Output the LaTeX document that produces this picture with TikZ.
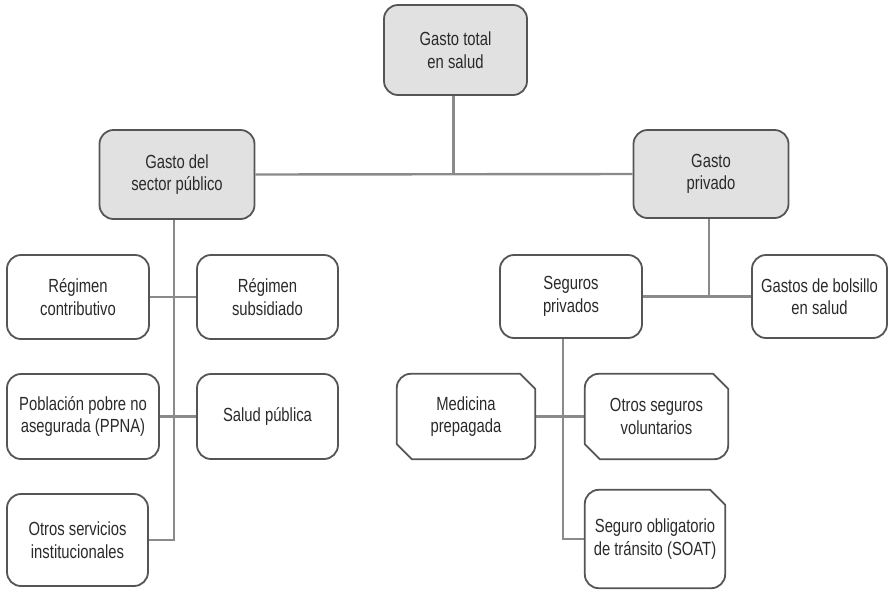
\documentclass[tikz,border=0pt]{standalone}
\usepackage{fontspec}
\setmainfont{Liberation Sans}[FakeStretch=0.78]
\usetikzlibrary{calc}
\definecolor{boxborder}{HTML}{555555}
\definecolor{connline}{HTML}{8A8A8A}
\definecolor{boxfill}{HTML}{E1E1E1}
\definecolor{txt}{HTML}{2A2A2A}
\tikzset{
  basebox/.style={rectangle, align=center, text=txt, inner sep=0pt,
    font=\fontsize{19}{22.5}\selectfont},
  roundbox/.style={basebox, draw=boxborder, line width=1.8pt, rounded corners=14pt, fill=white},
  greybox/.style={roundbox, fill=boxfill},
  chambox/.style={basebox},
  chamborder/.style={draw=boxborder, line width=1.8pt, line join=round},
  conn/.style={draw=connline, line width=2.4pt},
}
\newcommand\drawchamfer[2]{% #1 node name, #2 = 1 if bottom-left is chamfered
  \ifnum#2=1
  \draw[chamborder] ($(#1.north west)+(0,-14pt)$) arc[start angle=180,end angle=90,radius=14pt]
    -- ($(#1.north east)+(-15pt,0)$) -- ($(#1.north east)+(0,-15pt)$)
    -- ($(#1.south east)+(0,14pt)$) arc[start angle=0,end angle=-90,radius=14pt]
    -- ($(#1.south west)+(15pt,0)$) -- ($(#1.south west)+(0,15pt)$) -- cycle;
  \else
  \draw[chamborder] ($(#1.north west)+(0,-14pt)$) arc[start angle=180,end angle=90,radius=14pt]
    -- ($(#1.north east)+(-15pt,0)$) -- ($(#1.north east)+(0,-15pt)$)
    -- ($(#1.south east)+(0,14pt)$) arc[start angle=0,end angle=-90,radius=14pt]
    -- ($(#1.south west)+(14pt,0)$) arc[start angle=270,end angle=180,radius=14pt] -- cycle;
  \fi}
\begin{document}
\begin{tikzpicture}[x=1pt,y=-1pt]
\useasboundingbox (0,0) rectangle (890,590);
\node[greybox, minimum width=143pt, minimum height=90pt] (total) at (455.5,50) {Gasto total\\en salud};
\node[greybox, minimum width=155pt, minimum height=89pt] (pub) at (177,174.5) {Gasto del\\sector público};
\node[greybox, minimum width=155pt, minimum height=88pt] (priv) at (711,174) {Gasto\\privado};
\node[roundbox, minimum width=142pt, minimum height=84pt] (rc) at (78,297) {Régimen\\contributivo};
\node[roundbox, minimum width=141pt, minimum height=84pt] (rs) at (267.5,297) {Régimen\\subsidiado};
\node[roundbox, minimum width=152pt, minimum height=85pt] (pp) at (83,416.5) {Población pobre no\\asegurada (PPNA)};
\node[roundbox, minimum width=141pt, minimum height=85pt] (sp) at (267.5,416.5) {Salud pública};
\node[roundbox, minimum width=141pt, minimum height=92pt] (oi) at (77.5,540) {Otros servicios\\institucionales};
\node[roundbox, minimum width=142pt, minimum height=83pt] (sg) at (571,296.5) {Seguros\\privados};
\node[roundbox, minimum width=135pt, minimum height=83pt] (gb) at (819.5,296.5) {Gastos de bolsillo\\en salud};
\node[chambox, minimum width=138pt, minimum height=85pt] (mp) at (466,416.5) {Medicina\\prepagada};
\node[chambox, minimum width=143pt, minimum height=85pt] (os) at (656.5,416.5) {Otros seguros\\voluntarios};
\node[chambox, minimum width=140pt, minimum height=98pt] (so) at (655,539) {Seguro obligatorio\\de tránsito (SOAT)};
% connectors
\draw[conn] ([xshift=-2pt]total.south) -- ([xshift=-2pt]total.south |- pub.east);
\draw[conn] (pub.east) -- (priv.west);
\draw[conn] ([xshift=-3pt]pub.south) -- ([xshift=-3pt]pub.south |- oi.east) -- (oi.east);
\draw[conn] (rc.east) -- (rs.west);
\draw[conn] (pp.east) -- (sp.west);
\draw[conn] ([xshift=-2pt]priv.south) -- ([xshift=-2pt]priv.south |- sg.east);
\draw[conn] (sg.east) -- (gb.west);
\draw[conn] ([xshift=-8pt]sg.south) -- ([xshift=-8pt]sg.south |- so.west) -- (so.west);
\draw[conn] (mp.east) -- (os.west);
% chamfered borders
\drawchamfer{mp}{1}
\drawchamfer{os}{1}
\drawchamfer{so}{0}
\end{tikzpicture}
\end{document}
